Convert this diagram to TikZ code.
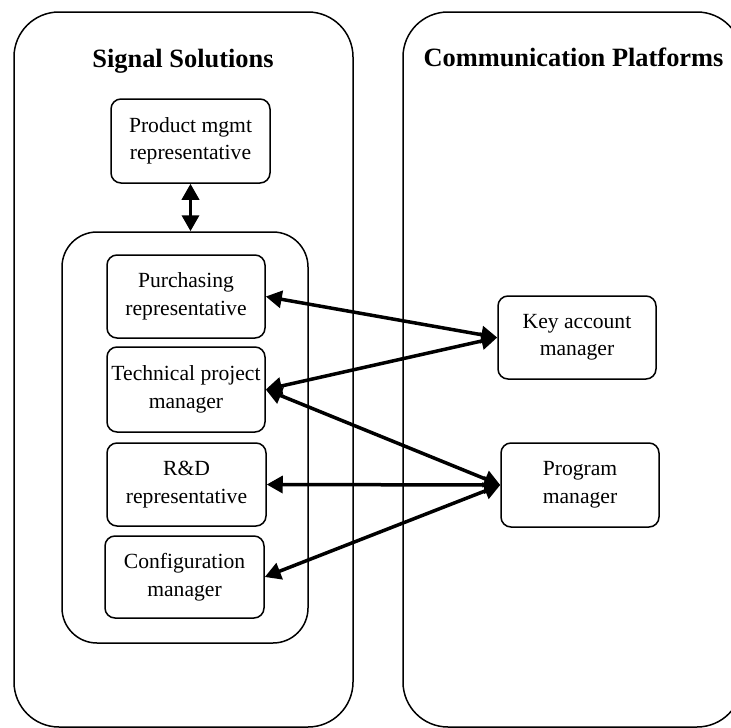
\documentclass[tikz,border=0pt]{standalone}
\usepackage{fontspec}
\setmainfont{Liberation Serif}
\usetikzlibrary{arrows.meta}
\tikzset{
  unit/.style={draw, rounded corners=45pt, line width=1.5pt, inner sep=0pt},
  group/.style={draw, rounded corners=35pt, line width=1.5pt, inner sep=0pt},
  role/.style={draw, rounded corners=10pt, line width=1.5pt, align=center,
    inner sep=0pt, minimum width=158pt, minimum height=83pt,
    font=\fontsize{21.6pt}{27.5pt}\selectfont},
  title/.style={font=\fontsize{26.4pt}{30pt}\selectfont\bfseries, inner sep=0pt, anchor=base},
  link/.style={line width=3.5pt, {Triangle[length=16pt,width=17pt]}-{Triangle[length=16pt,width=17pt]}}
}
\begin{document}
\begin{tikzpicture}[x=1pt,y=-1pt]
\useasboundingbox (0,0) rectangle (731,728);
\clip (0,0) rectangle (731,728);

% the two organisations
\node[unit, minimum width=339pt, minimum height=715pt] (ss) at (183.5,369.5) {};
\node[unit, minimum width=339pt, minimum height=715pt] (cp) at (572.5,369.5) {};
\node[title] (sst) at (183,67) {Signal Solutions};
\node[title] (cpt) at (573.5,66) {Communication Platforms};

% project team inside Signal Solutions
\node[group, minimum width=246pt, minimum height=411pt] (team) at (185,437.5) {};

\node[role, minimum width=159pt, minimum height=84pt] (prod) at (190.5,141) {Product mgmt\\representative};
\node[role] (purch) at (186,296.5) {Purchasing\\representative};
\node[role, minimum height=85pt] (tech) at (186,389.5) {Technical project\\manager};
\node[role, minimum width=159pt] (rnd) at (186.5,484.5) {R\&D\\representative};
\node[role, minimum width=159pt, minimum height=82pt] (conf) at (184.5,577) {Configuration\\manager};

\node[role] (key) at (577,337.5) {Key account\\manager};
\node[role, minimum height=84pt] (prog) at (580,485) {Program\\manager};

% connections
\draw[link] (prod.south) -- (prod.south |- team.north);
\draw[link] (purch.east) -- (key.west);
\draw[link] (tech.east) -- (key.west);
\draw[link] (tech.east) -- (prog.west);
\draw[link] (rnd.east) -- (prog.west);
\draw[link] (conf.east) -- (prog.west);
\end{tikzpicture}
\end{document}
